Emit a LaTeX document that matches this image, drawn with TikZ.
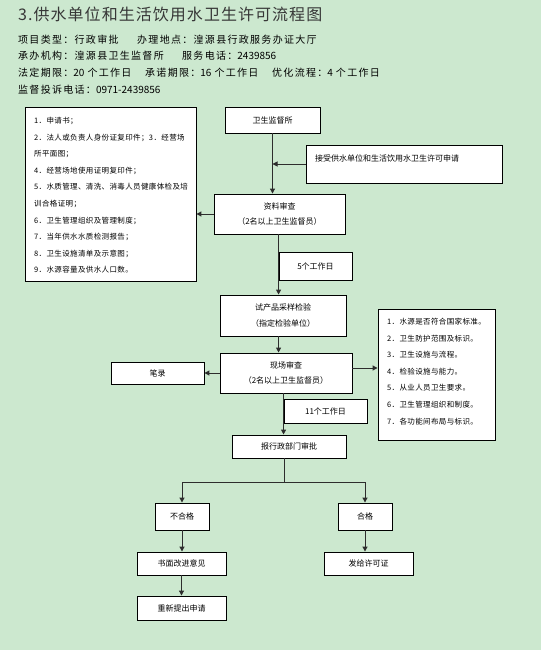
\documentclass[tikz,border=0pt]{standalone}
\usepackage{fontspec}
\setmainfont{Noto Sans CJK SC}
\newfontfamily\dig{Noto Sans CJK SC}
\usetikzlibrary{arrows.meta}
\definecolor{bg}{RGB}{204,232,207}
\definecolor{lc}{RGB}{45,45,45}
\definecolor{titlec}{RGB}{55,55,55}
\begin{document}
\begin{tikzpicture}[x=1bp,y=-1bp,
  box/.style={draw=black, line width=0.9bp, fill=white, inner sep=0pt, align=center,
    font=\fontsize{8bp}{15.5bp}\selectfont},
  wh/.style 2 args={minimum width=#1bp, minimum height=#2bp},
  conn/.style={draw=lc, line width=1bp},
  arr/.style={conn, -{Triangle[length=5bp,width=5bp]}},
  info/.style={anchor=base west, inner sep=0pt,
    font=\fontsize{10bp}{12bp}\selectfont\addfontfeatures{LetterSpace=13}},
  lst/.style={anchor=north west, inner sep=0pt, align=left,
    font=\fontsize{7.5bp}{16.6bp}\selectfont\addfontfeatures{LetterSpace=5}}]
\fill[bg] (0,0) rectangle (541,650);
\useasboundingbox (0,0) rectangle (541,650);

% heading
\node[anchor=base west, inner sep=0pt, text=titlec,
  font=\fontsize{16bp}{18bp}\selectfont\addfontfeatures{LetterSpace=6.5}] (title) at (18,21) {3.供水单位和生活饮用水卫生许可流程图};
\node[info] (i1) at (18,44) {项目类型：行政审批};
\node[info] (i2) at (137,44) {办理地点：湟源县行政服务办证大厅};
\node[info] (i3) at (18,60) {承办机构：湟源县卫生监督所};
\node[info] (i4) at (182,60) {服务电话：{\dig 2439856}};
\node[info] (i5) at (18,77) {法定期限：{\dig 20}\hspace{3bp}个工作日};
\node[info] (i6) at (145,77) {承诺期限：{\dig 16}\hspace{3bp}个工作日};
\node[info] (i7) at (272,77) {优化流程：{\dig 4}\hspace{3bp}个工作日};
\node[info] (i8) at (18,94) {监督投诉电话：{\dig 0971-2439856}};

% boxes
\node[box, wh={95}{26}] (jds) at (272.5,120) {卫生监督所};
\node[box, wh={196}{38}] (app) at (404,164) {};
\node[anchor=west, inner sep=0pt, font=\fontsize{8bp}{10bp}\selectfont] (apptext) at (315,158) {接受供水单位和生活饮用水卫生许可申请};
\node[box, wh={131}{40}] (zlsc) at (279.5,214) {资料审查\\（2名以上卫生监督员）};
\node[box, wh={171}{174}] (lbox) at (110.5,194) {};
\node[lst] (ltext) at (34,117) {1．申请书；\\
2．法人或负责人身份证复印件；3．经营场\\
所平面图；\\
4．经营场地使用证明复印件；\\
5．水质管理、清洗、消毒人员健康体检及培\\
训合格证明；\\
6．卫生管理组织及管理制度；\\
7．当年供水水质检测报告；\\
8．卫生设施清单及示意图；\\
9．水源容量及供水人口数。};
\node[box, wh={73}{28}] (d5) at (315.5,266) {5个工作日};
\node[box, wh={126}{41}] (sccy) at (283,315.5) {试产品采样检验\\（指定检验单位）};
\node[box, wh={132}{40}] (xcsc) at (286,373) {现场审查\\（2名以上卫生监督员）};
\node[box, wh={93}{22}] (bl) at (157.5,373) {笔录};
\node[box, wh={117}{131}] (rlist) at (436.5,374.5) {};
\node[lst] (rtext) at (387,318) {1．水源是否符合国家标准。\\
2．卫生防护范围及标识。\\
3．卫生设施与流程。\\
4．检验设施与能力。\\
5．从业人员卫生要求。\\
6．卫生管理组织和制度。\\
7．各功能间布局与标识。};
\node[box, wh={83}{24}] (d11) at (325.5,411) {11个工作日};
\node[box, wh={114}{23}] (bsp) at (289,446.5) {报行政部门审批};
\node[box, wh={54}{27}] (bhg) at (182,516.5) {不合格};
\node[box, wh={54}{27}] (hg) at (365,516.5) {合格};
\node[box, wh={89}{23}] (smyj) at (181.5,563.5) {书面改进意见};
\node[box, wh={89}{23}] (fgxkz) at (368.5,563.5) {发给许可证};
\node[box, wh={89}{24}] (cxtc) at (181.5,608) {重新提出申请};

% connectors
\draw[arr] (jds.south) -- (jds.south |- zlsc.north);
\draw[arr] (app.west) -- (app.west -| jds.south);
\draw[arr] (zlsc.west) -- (zlsc.west -| lbox.east);
\draw[arr] (zlsc.south -| d5.west) -- (sccy.north -| d5.west);
\draw[arr] (sccy.south -| d5.west) -- (xcsc.north -| d5.west);
\draw[arr] (xcsc.west) -- (bl.east);
\draw[arr] ([yshift=5bp]xcsc.east) -- ([yshift=5bp]xcsc.east -| rlist.west);
\draw[arr] (xcsc.south -| d11.west) -- (bsp.north -| d11.west);
\coordinate (split) at (284,482);
\draw[conn] (split |- bsp.south) -- (split);
\draw[arr] (split) -| (bhg.north);
\draw[arr] (split) -| (hg.north);
\draw[arr] (bhg.south) -- (smyj.north -| bhg.south);
\draw[arr] (smyj.south) -- (cxtc.north);
\draw[arr] (hg.south) -- (fgxkz.north -| hg.south);
\end{tikzpicture}
\end{document}
